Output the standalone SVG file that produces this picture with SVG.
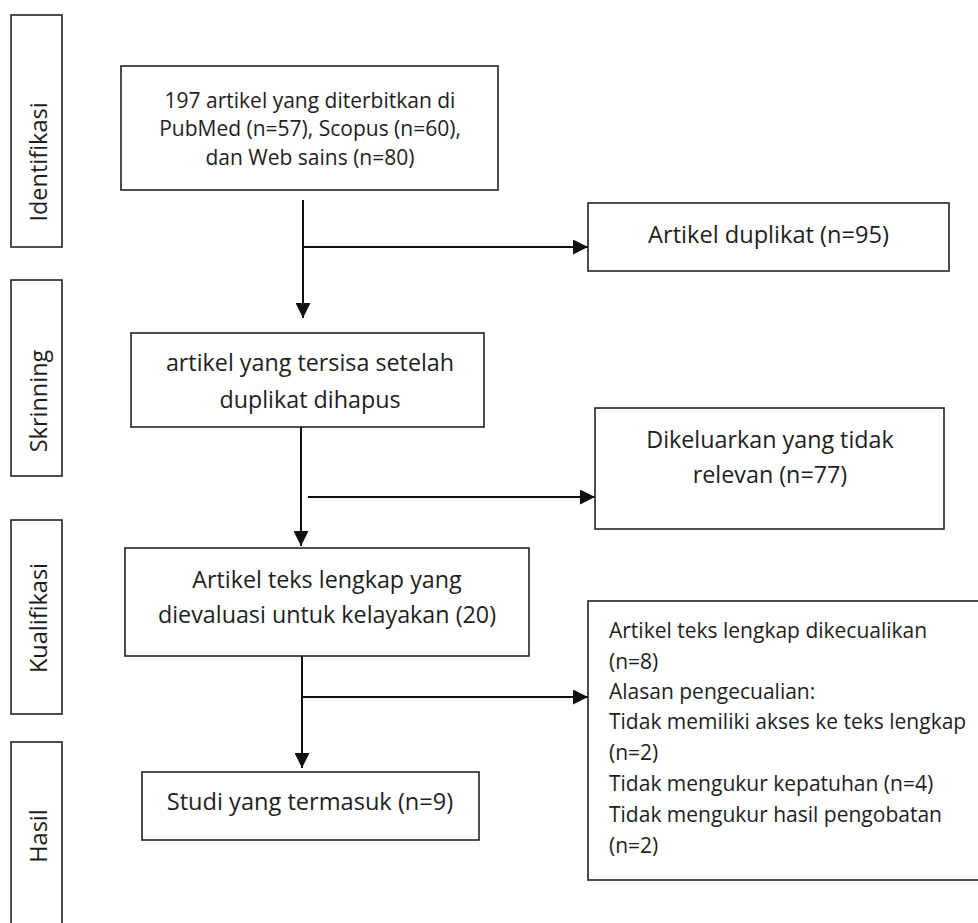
<svg xmlns="http://www.w3.org/2000/svg" width="978" height="923" viewBox="0 0 978 923">
<defs>
<style>
.box{fill:#fff;stroke:#222;stroke-width:1.6}
.t{font-family:"Open Sans","Noto Sans","DejaVu Sans",sans-serif;fill:#1e1e1e;font-size:23.3px}
.c{text-anchor:middle}
.s{font-size:21px}
.b1{font-size:21px}
.lab{font-size:23.5px;text-anchor:middle}
.ln{fill:none;stroke:#111;stroke-width:2}
</style>
<marker id="ah" viewBox="0 0 15 15" refX="15" refY="7.5" markerWidth="15" markerHeight="15" markerUnits="userSpaceOnUse" orient="auto">
<path d="M0,0 L15,7.5 L0,15 z" fill="#111"/>
</marker>
</defs>
<rect width="978" height="923" fill="#fff"/>

<g id="stage-identifikasi">
<rect class="box" x="11" y="15" width="51" height="232"/>
<text class="t lab" x="47" y="162" transform="rotate(-90 47 162)">Identifikasi</text>
</g>
<g id="stage-skrinning">
<rect class="box" x="11" y="280" width="51" height="196"/>
<text class="t lab" x="47" y="401" transform="rotate(-90 47 401)">Skrinning</text>
</g>
<g id="stage-kualifikasi">
<rect class="box" x="11" y="520" width="51" height="194"/>
<text class="t lab" x="47" y="618" transform="rotate(-90 47 618)">Kualifikasi</text>
</g>
<g id="stage-hasil">
<rect class="box" x="11" y="742" width="51" height="200"/>
<text class="t lab" x="47" y="836" transform="rotate(-90 47 836)">Hasil</text>
</g>

<g id="connectors">
<line class="ln" x1="303" y1="200" x2="303" y2="318" marker-end="url(#ah)"/>
<line class="ln" x1="303" y1="247" x2="588" y2="247" marker-end="url(#ah)"/>
<line class="ln" x1="301" y1="427" x2="301" y2="546" marker-end="url(#ah)"/>
<line class="ln" x1="308" y1="497" x2="595" y2="497" marker-end="url(#ah)"/>
<line class="ln" x1="302" y1="650" x2="302" y2="768" marker-end="url(#ah)"/>
<line class="ln" x1="303" y1="697" x2="588" y2="697" marker-end="url(#ah)"/>
</g>

<g id="node-sources">
<rect class="box" x="121" y="66" width="377" height="124"/>
<text class="t c b1" x="310" y="107.5">197 artikel yang diterbitkan di</text>
<text class="t c b1" x="310" y="136">PubMed (n=57), Scopus (n=60),</text>
<text class="t c b1" x="310" y="164.5">dan Web sains  (n=80)</text>
</g>

<g id="node-duplikat">
<rect class="box" x="588" y="203" width="361" height="68"/>
<text class="t c" x="768.5" y="243" style="font-size:23.6px">Artikel duplikat (n=95)</text>
</g>

<g id="node-tersisa">
<rect class="box" x="131" y="333" width="353" height="94"/>
<text class="t c" x="310" y="371">artikel yang tersisa setelah</text>
<text class="t c" x="310" y="408">duplikat dihapus</text>
</g>

<g id="node-dikeluarkan">
<rect class="box" x="595" y="408" width="349" height="121"/>
<text class="t c" x="770" y="448">Dikeluarkan yang tidak</text>
<text class="t c" x="770" y="483">relevan (n=77)</text>
</g>

<g id="node-evaluasi">
<rect class="box" x="125" y="548" width="404" height="108"/>
<text class="t c" x="327" y="588">Artikel teks lengkap yang</text>
<text class="t c" x="327" y="623">dievaluasi untuk kelayakan (20)</text>
</g>

<g id="node-dikecualikan">
<rect class="box" x="588" y="601" width="400" height="279"/>
<text class="t s" x="609" y="638">Artikel teks lengkap dikecualikan</text>
<text class="t s" x="609" y="669">(n=8)</text>
<text class="t s" x="609" y="699">Alasan pengecualian:</text>
<text class="t s" x="609" y="729">Tidak memiliki akses ke teks lengkap</text>
<text class="t s" x="609" y="760">(n=2)</text>
<text class="t s" x="609" y="791">Tidak mengukur kepatuhan (n=4)</text>
<text class="t s" x="609" y="822">Tidak mengukur hasil pengobatan</text>
<text class="t s" x="609" y="853">(n=2)</text>
</g>

<g id="node-termasuk">
<rect class="box" x="142" y="772" width="337" height="68"/>
<text class="t c" x="310" y="810" style="font-size:23.6px">Studi yang termasuk (n=9)</text>
</g>
</svg>
